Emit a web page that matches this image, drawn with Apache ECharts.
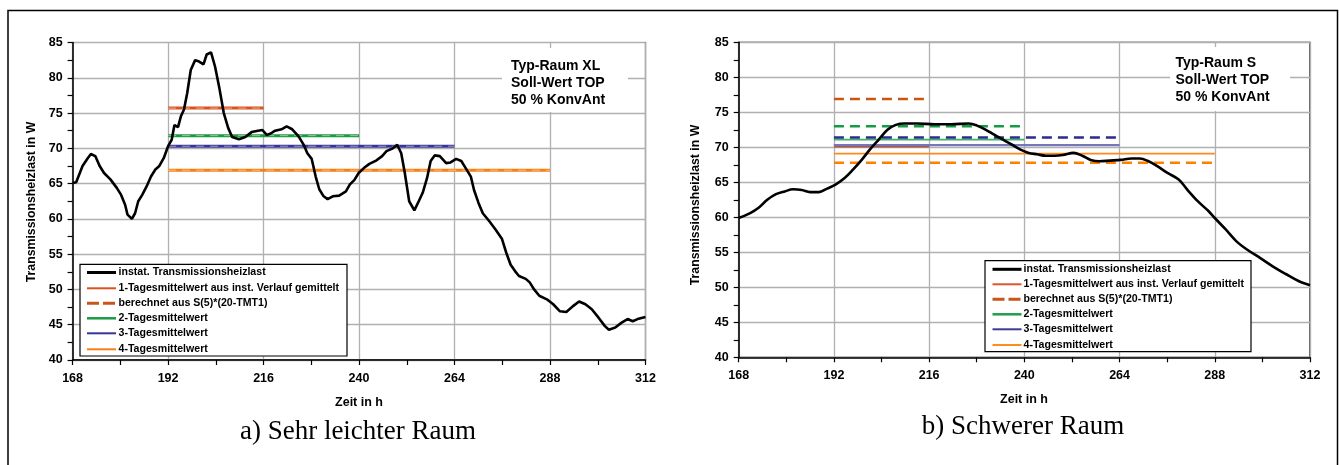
<!DOCTYPE html>
<html>
<head>
<meta charset="utf-8">
<script src="https://cdn.jsdelivr.net/npm/echarts@6/dist/echarts.min.js"></script>
<style>
html,body{margin:0;padding:0;background:#fff;}
#c{width:1339px;height:465px;}
</style>
</head>
<body>
<div id="c"></div>
<script>
// ---------- DATA ----------
const hoursXL = [168,168.9,170.5,171.8,172.6,173.7,174.8,175.9,177.5,179.1,180.2,181.2,181.8,182.9,183.7,184.5,185.5,186.6,187.7,188.8,189.8,190.9,192.0,192.9,193.6,194.5,195.2,196.0,196.8,197.7,198.8,199.8,200.9,201.7,202.8,203.8,204.9,206.0,207.1,208.1,209.8,211.4,213.0,214.6,215.7,216.8,217.8,218.9,220.5,221.8,223.2,224.8,226.1,227.0,228.1,229.1,230.0,231.1,232.1,233.4,235.0,236.7,237.7,238.8,239.9,241.2,242.6,244.4,245.8,246.9,248.5,249.6,250.6,251.5,252.6,253.9,255.0,256.0,257.1,258.0,259.0,260.3,261.9,263.0,264.4,265.7,266.8,268.1,268.9,270.0,271.1,272.7,274.3,275.9,277.0,278.1,279.2,280.2,281.9,282.9,284.0,285.3,287.2,288.8,290.5,292.1,293.7,295.3,296.9,298.5,300.2,301.8,302.8,304.4,306.0,307.5,308.8,310.0,312.0];
const loadXL  = [65.1,65.2,67.5,68.6,69.2,68.9,67.5,66.5,65.6,64.4,63.4,62.0,60.6,60.0,60.8,62.5,63.4,64.6,66.0,67.0,67.5,68.6,70.3,71.2,73.3,73.0,74.5,75.5,77.8,81.1,82.5,82.3,81.9,83.3,83.6,81.6,78.5,75.0,72.9,71.6,71.3,71.6,72.3,72.5,72.6,71.9,72.1,72.5,72.7,73.1,72.7,71.7,70.5,69.3,68.5,66.0,64.2,63.2,62.8,63.2,63.3,63.9,64.9,65.5,66.5,67.2,67.8,68.3,68.9,69.6,70.0,70.5,69.3,66.5,62.5,61.2,62.5,63.7,65.8,68.2,69.0,68.9,67.9,68.0,68.5,68.2,67.2,66.0,64.1,62.3,60.8,59.7,58.5,57.2,55.2,53.5,52.6,51.9,51.5,51.0,50.0,49.1,48.6,47.9,46.9,46.8,47.6,48.3,47.9,47.2,46.0,44.8,44.3,44.6,45.3,45.8,45.5,45.8,46.1];

const hoursS = [168,170.9,173.1,175.2,177.4,179.6,181.7,183.9,186.0,188.2,190.3,192.5,194.7,196.8,199.0,201.1,203.3,205.5,207.6,209.8,213.0,217.3,221.6,226.0,228.1,230.3,232.4,234.6,236.8,238.9,241.1,243.2,245.4,247.6,249.7,252.4,254.6,256.7,258.9,261.6,264.3,267.0,269.1,271.3,273.5,276.2,278.9,281.0,283.7,286.4,288.0,290.7,293.4,296.1,299.4,302.6,305.9,309.1,312.0];
const loadS  = [59.9,60.6,61.4,62.5,63.3,63.7,64.0,63.9,63.6,63.6,64.1,64.7,65.6,66.8,68.2,69.7,71.1,72.5,73.2,73.4,73.4,73.3,73.3,73.4,73.1,72.5,71.8,71.1,70.4,69.7,69.2,69.0,68.8,68.8,68.9,69.2,68.8,68.2,68.0,68.1,68.2,68.4,68.4,68.0,67.3,66.3,65.4,64.0,62.3,60.9,59.9,58.3,56.6,55.4,54.2,53.0,51.9,50.9,50.3];

// averaging windows: 1-, 2-, 3-, 4-Tagesmittelwert all start at 192 h
const meanStart = 192;
const meanEnds  = [216, 240, 264, 288];
const meanXL = [75.7, 71.8, 70.3, 66.9];   // solid: from instant curve
const calcXL = [75.7, 71.8, 70.3, 66.9];   // dashed: S(5)*(20-TMT)
const meanS  = [70.2, 71.1, 70.3, 69.1];
const calcS  = [76.9, 73.0, 71.4, 67.8];

const xTicks = [168, 192, 216, 240, 264, 288, 312];
const yMin = 40, yMax = 85;

const legendNames = ['instat. Transmissionsheizlast','1-Tagesmittelwert aus inst. Verlauf gemittelt','berechnet aus S(5)*(20-TMT1)','2-Tagesmittelwert','3-Tagesmittelwert','4-Tagesmittelwert'];
const notesXL = ['Typ-Raum XL','Soll-Wert TOP','50 % KonvAnt'];
const notesS  = ['Typ-Raum S','Soll-Wert TOP','50 % KonvAnt'];
const captions = ['a) Sehr leichter Raum','b) Schwerer Raum'];

// ---------- STYLE ----------
const F = "'Liberation Sans', Arial, sans-serif";
const colsXL = ['#d9531e','#1a9a42','#36369a','#f78014'];
const colsSsolid = ['#b9502f','#3bb36a','#7676bb','#ff8a1c'];
const colsSdash  = ['#cc5418','#129c44','#2c2c8e','#ff8000'];

const chart = echarts.init(document.getElementById('c'), null, {renderer:'canvas'});

function xAxisOf(gi){
  return {
    type:'value', gridIndex:gi, min:168, max:312, interval:24,
    axisLine:{show:true, lineStyle:{color:'#000', width:1.5}},
    axisTick:{show:true, inside:false, length:5, lineStyle:{color:'#000', width:1.2}},
    minorTick:{show:true, splitNumber:2, length:5, lineStyle:{color:'#000', width:1.2}},
    axisLabel:{color:'#000', fontFamily:F, fontWeight:'bold', fontSize:12.5, margin:12,
      customValues: xTicks},
    splitLine:{show:true, lineStyle:{color:'#b0b0b0', width:1.3}}
  };
}
function yAxisOf(gi){
  return {
    type:'value', gridIndex:gi, min:yMin, max:yMax, interval:5,
    axisLine:{show:true, lineStyle:{color:'#000', width:1.5}},
    axisTick:{show:true, inside:false, length:5, lineStyle:{color:'#000', width:1.2}},
    minorTick:{show:true, splitNumber:2, length:5, lineStyle:{color:'#000', width:1.2}},
    axisLabel:{color:'#000', fontFamily:F, fontWeight:'bold', fontSize:12.5, margin:10},
    splitLine:{show:true, lineStyle:{color:'#b0b0b0', width:1.3}}
  };
}
function seg(v, i){ return [[meanStart, v],[meanEnds[i], v]]; }

const series = [];
// left chart
for (let i=0;i<4;i++){
  series.push({type:'line', xAxisIndex:0, yAxisIndex:0, data:seg(meanXL[i],i), symbol:'none',
    lineStyle:{color:colsXL[i], width:3}, z:2, silent:true, animation:false});
  series.push({type:'line', xAxisIndex:0, yAxisIndex:0, data:seg(calcXL[i],i), symbol:'none',
    lineStyle:{color:'rgba(255,235,215,0.7)', width:0.8, type:[8,6]}, z:3, silent:true, animation:false});
}
series.push({type:'line', xAxisIndex:0, yAxisIndex:0, data:hoursXL.map((h,i)=>[h,loadXL[i]]),
  symbol:'none', lineStyle:{color:'#000', width:2.6}, z:5, animation:false});
// right chart
const orderS = [3,2,1,0];
for (const i of orderS){
  series.push({type:'line', xAxisIndex:1, yAxisIndex:1, data:seg(meanS[i],i), symbol:'none',
    lineStyle:{color:colsSsolid[i], width: i===0?3:(i===2?2.2:1.8)}, z: i===2?3:2, silent:true, animation:false});
  series.push({type:'line', xAxisIndex:1, yAxisIndex:1, data:seg(calcS[i],i), symbol:'none',
    lineStyle:{color:colsSdash[i], width:2.6, type:[10,6]}, z:3, silent:true, animation:false});
}
series.push({type:'line', xAxisIndex:1, yAxisIndex:1, data:hoursS.map((h,i)=>[h,loadS[i]]),
  symbol:'none', smooth:0.35, lineStyle:{color:'#000', width:2.6}, z:5, animation:false});

// ---------- GRAPHIC (legends, notes, titles, frame) ----------
const g = [];
g.push({type:'polyline', shape:{points:[[8,466],[8,10.5],[1337.5,10.5],[1337.5,466]]},
  style:{stroke:'#000', lineWidth:1.5, fill:null}, z:10});

function legend(box, lx1, lx2, tx, ys, cols){
  g.push({type:'rect', shape:{x:box[0], y:box[1], width:box[2]-box[0], height:box[3]-box[1]},
    style:{fill:'#fff', stroke:'#000', lineWidth:1.2}, z:20});
  const st = [
    {stroke:'#000', lineWidth:3},
    {stroke:cols[0], lineWidth:2},
    {stroke:'#c8561c', lineWidth:3, lineDash:[12,4]},
    {stroke:cols[1], lineWidth:2.5},
    {stroke:cols[2], lineWidth:2},
    {stroke:cols[3], lineWidth:2}
  ];
  for (let i=0;i<6;i++){
    g.push({type:'line', shape:{x1:lx1, y1:ys[i], x2:lx2, y2:ys[i]}, style:st[i], z:21});
    g.push({type:'text', x:tx, y:ys[i], z:21,
      style:{text:legendNames[i], font:"bold 10.6px "+F, fill:'#000', textAlign:'left', textVerticalAlign:'middle'}});
  }
}
legend([80,264.3,347,356], 87, 116, 118.5, [272.5,288.3,303.3,318.3,333.3,349.3], colsXL);
legend([985,260.7,1251,351.7], 992.5, 1021.5, 1023.5, [269.3,284.3,299.3,314.3,329.3,345], ['#d8582a','#1f9e48','#3c3c98','#ff8c1a']);

function notes(box, tx, ys, lines){
  g.push({type:'rect', shape:{x:box[0], y:box[1], width:box[2]-box[0], height:box[3]-box[1]},
    style:{fill:'#fff'}, z:15});
  for (let i=0;i<3;i++){
    g.push({type:'text', x:tx, y:ys[i], z:16,
      style:{text:lines[i], font:"bold 14px "+F, fill:'#000', textAlign:'left', textVerticalAlign:'middle'}});
  }
}
notes([502,48,628,112], 511, [66.5,83,100], notesXL);
notes([1170,47,1290,111], 1175.5, [63.5,80,96.7], notesS);

// axis titles
g.push({type:'text', x:359, y:402.5, z:16, style:{text:'Zeit in h', font:"bold 12.5px "+F, fill:'#000', textAlign:'center', textVerticalAlign:'middle'}});
g.push({type:'text', x:1024, y:400, z:16, style:{text:'Zeit in h', font:"bold 12.5px "+F, fill:'#000', textAlign:'center', textVerticalAlign:'middle'}});
g.push({type:'text', x:32, y:202, rotation:Math.PI/2, z:16, style:{text:'Transmissionsheizlast in W', font:"bold 12.3px "+F, fill:'#000', textAlign:'center', textVerticalAlign:'middle'}});
g.push({type:'text', x:695.5, y:205, rotation:Math.PI/2, z:16, style:{text:'Transmissionsheizlast in W', font:"bold 12.3px "+F, fill:'#000', textAlign:'center', textVerticalAlign:'middle'}});
// captions
g.push({type:'text', x:358, y:432, z:16, style:{text:captions[0], font:"27px 'Liberation Serif', 'Times New Roman', serif", fill:'#000', textAlign:'center', textVerticalAlign:'middle'}});
g.push({type:'text', x:1023, y:427, z:16, style:{text:captions[1], font:"27px 'Liberation Serif', 'Times New Roman', serif", fill:'#000', textAlign:'center', textVerticalAlign:'middle'}});

chart.setOption({
  animation:false,
  backgroundColor:'#fff',
  grid:[
    {left:72.6, top:42.5, width:572.9, height:317.5, show:true, borderColor:'#000', borderWidth:1.2, backgroundColor:'transparent', containLabel:false},
    {left:738.7, top:42.3, width:571.3, height:315, show:true, borderColor:'#000', borderWidth:1.2, backgroundColor:'transparent', containLabel:false}
  ],
  xAxis:[xAxisOf(0), xAxisOf(1)],
  yAxis:[yAxisOf(0), yAxisOf(1)],
  series: series,
  graphic: g
});
</script>
</body>
</html>
